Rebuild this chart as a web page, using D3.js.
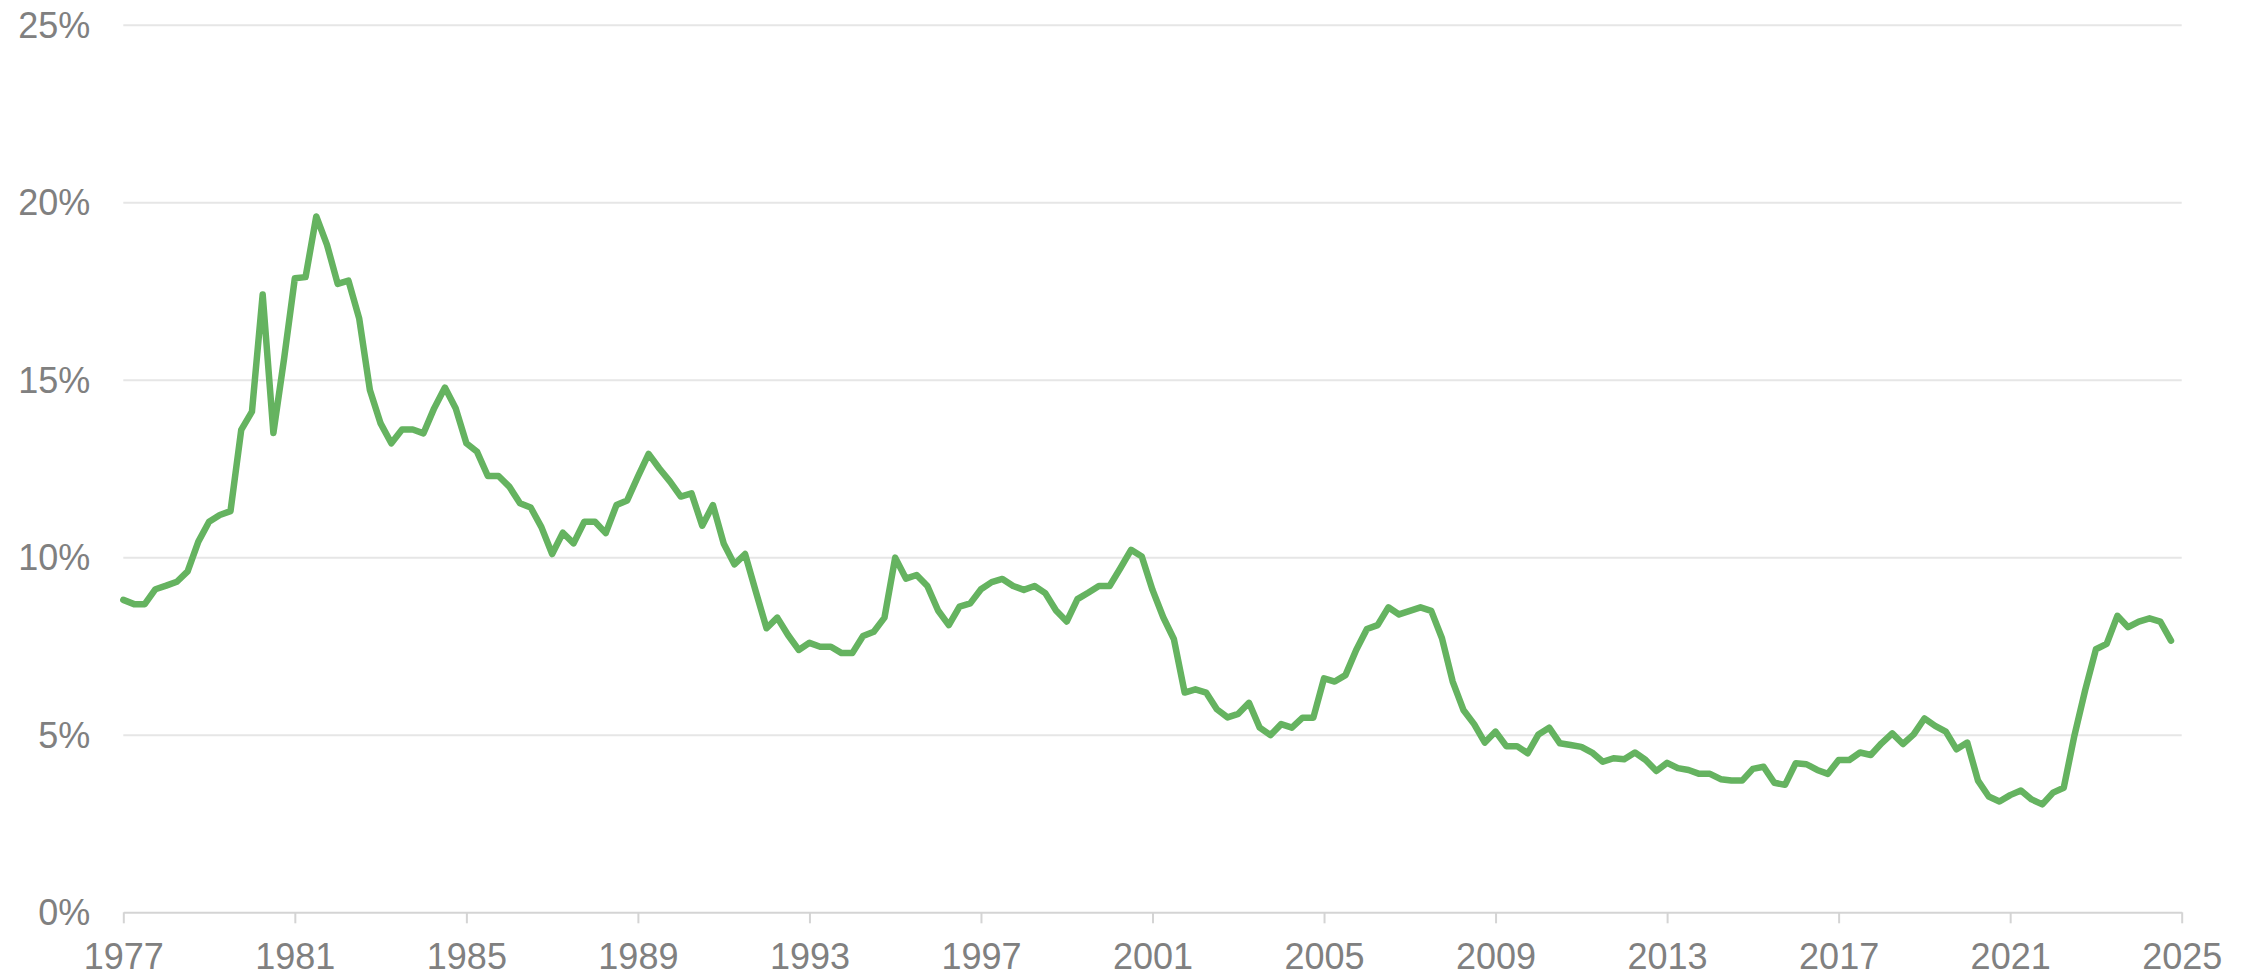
<!DOCTYPE html>
<html lang="en">

<head>
    <meta charset="UTF-8">
    <title>rate line</title>
    <script src="https://cdn.jsdelivr.net/npm/d3@7"></script>
    <style>
        body {
            margin: 0;
            background: #ffffff;
        }

        .tick text {
            font-family: "Liberation Sans", Arial, sans-serif;
            font-size: 36px;
            fill: #808080;
        }
    </style>
</head>

<body>
    <svg id="chart" width="2257" height="977"></svg>

    <script>
        // quarterly series, first quarter of 1977 onwards (percent)
        let startYear = 1977
        let rate = [
            8.8, 8.68, 8.68, 9.1,      // 1977
            9.2, 9.31, 9.6, 10.44,     // 1978
            11.0, 11.19, 11.3, 13.59,  // 1979
            14.1, 17.4, 13.5, 15.6,    // 1980
            17.86, 17.89, 19.6, 18.8,  // 1981
            17.7, 17.79, 16.73, 14.71, // 1982
            13.77, 13.21, 13.6, 13.6,  // 1983
            13.49, 14.2, 14.78, 14.2,  // 1984
            13.21, 12.97, 12.29, 12.29,// 1985
            11.99, 11.52, 11.4, 10.85, // 1986
            10.09, 10.69, 10.39, 11.0, // 1987
            11.0, 10.68, 11.47, 11.6,  // 1988
            12.27, 12.91, 12.5, 12.13, // 1989
            11.71, 11.8, 10.89, 11.47, // 1990
            10.39, 9.8, 10.09, 9.03,   // 1991
            8.0, 8.3, 7.81, 7.39,      // 1992
            7.59, 7.48, 7.48, 7.3,     // 1993
            7.3, 7.78, 7.9, 8.3,       // 1994
            9.99, 9.4, 9.5, 9.19,      // 1995
            8.5, 8.09, 8.61, 8.7,      // 1996
            9.1, 9.3, 9.39, 9.19,      // 1997
            9.08, 9.19, 8.99, 8.5,     // 1998
            8.19, 8.82, 9.0, 9.19,     // 1999
            9.19, 9.69, 10.21, 10.02,  // 2000
            9.08, 8.31, 7.69, 6.19,    // 2001
            6.28, 6.19, 5.72, 5.49,    // 2002
            5.59, 5.9, 5.2, 4.99,      // 2003
            5.3, 5.2, 5.48, 5.48,      // 2004
            6.59, 6.5, 6.68, 7.39,     // 2005
            7.98, 8.09, 8.59, 8.39,    // 2006
            8.49, 8.59, 8.49, 7.72,    // 2007
            6.5, 5.7, 5.3, 4.78,       // 2008
            5.09, 4.68, 4.68, 4.48,    // 2009
            5.01, 5.2, 4.76, 4.71,     // 2010
            4.66, 4.5, 4.24, 4.34,     // 2011
            4.31, 4.5, 4.29, 3.98,     // 2012
            4.21, 4.06, 4.01, 3.9,     // 2013
            3.9, 3.75, 3.71, 3.71,     // 2014
            4.04, 4.1, 3.65, 3.59,     // 2015
            4.2, 4.17, 4.01, 3.9,      // 2016
            4.29, 4.29, 4.5, 4.43,     // 2017
            4.76, 5.04, 4.74, 5.01,    // 2018
            5.46, 5.25, 5.09, 4.59,    // 2019
            4.78, 3.71, 3.26, 3.12,    // 2020
            3.3, 3.43, 3.18, 3.04,     // 2021
            3.37, 3.51, 4.99, 6.26,    // 2022
            7.41, 7.56, 8.35, 8.03,    // 2023
            8.19, 8.28, 8.19, 7.65     // 2024
        ]
        let xTicks = [1977, 1981, 1985, 1989, 1993, 1997, 2001, 2005, 2009, 2013, 2017, 2021, 2025]
        let yTicks = [0, 5, 10, 15, 20, 25]

        let data = rate.map(function (v, i) {
            return { t: startYear + i / 4, v: v }
        })

        let svg = d3.select("#chart")
        let m = { left: 123.3, right: 2181.7, top: 24.7, bottom: 912.3 }

        let x = d3.scaleLinear().domain([1977, 2025]).range([m.left, m.right])
        let y = d3.scaleLinear().domain([0, 25]).range([m.bottom, m.top])

        // y axis: gridlines + labels
        let yAxis = svg.append("g")
            .attr("transform", "translate(" + m.left + ",0)")
            .call(d3.axisLeft(y)
                .tickValues(yTicks)
                .tickSize(-(m.right - m.left))
                .tickPadding(33)
                .tickFormat(function (d) { return d + "%" }))
        yAxis.select(".domain").remove()
        yAxis.selectAll(".tick line")
            .attr("stroke", "#e6e6e6")
            .attr("stroke-width", 2)
        yAxis.selectAll(".tick")
            .filter(function (d) { return d === 0 })
            .select("line").remove()
        yAxis.selectAll(".tick text").attr("dy", "0.35em")

        // x axis
        let xAxis = svg.append("g")
            .attr("transform", "translate(0," + m.bottom + ")")
            .call(d3.axisBottom(x)
                .tickValues(xTicks)
                .tickSize(11)
                .tickSizeOuter(0)
                .tickPadding(20)
                .tickFormat(d3.format("d")))
        xAxis.select(".domain")
            .attr("stroke", "#d4d4d4")
            .attr("stroke-width", 2)
        xAxis.selectAll(".tick line")
            .attr("stroke", "#d4d4d4")
            .attr("stroke-width", 2)
        xAxis.selectAll(".tick text").attr("dy", "0.71em")

        // the line
        let line = d3.line()
            .x(function (d) { return x(d.t) })
            .y(function (d) { return y(d.v) })

        svg.append("path")
            .datum(data)
            .attr("d", line)
            .attr("fill", "none")
            .attr("stroke", "#65b360")
            .attr("stroke-width", 6.5)
            .attr("stroke-linejoin", "round")
            .attr("stroke-linecap", "round")
    </script>

</body>

</html>
